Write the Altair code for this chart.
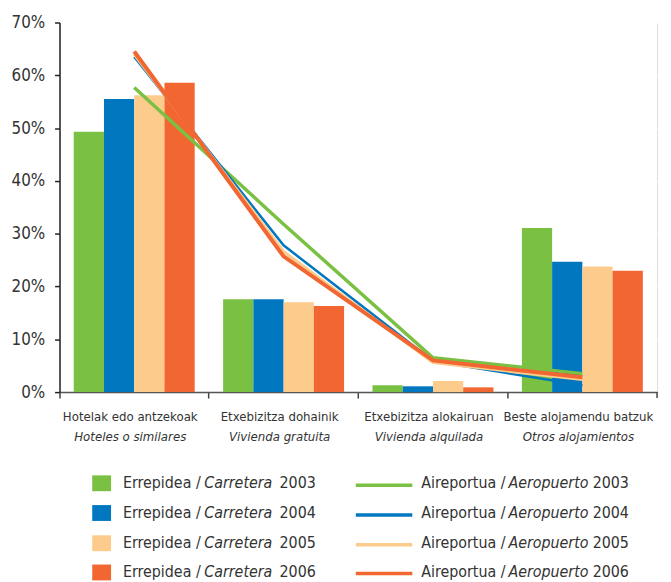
import altair as alt
import pandas as pd

# ---------------- data ----------------
categories = ["Hotelak edo antzekoak", "Etxebizitza dohainik",
              "Etxebizitza alokairuan", "Beste alojamendu batzuk"]
categories_es = ["Hoteles o similares", "Vivienda gratuita",
                 "Vivienda alquilada", "Otros alojamientos"]
years = ["2003", "2004", "2005", "2006"]

# Errepidea / Carretera (bars), percent
road_2003 = [49.3, 17.6, 1.3, 31.1]
road_2004 = [55.5, 17.6, 1.1, 24.7]
road_2005 = [56.2, 17.0, 2.1, 23.8]
road_2006 = [58.6, 16.3, 0.9, 23.0]

# Aireportua / Aeropuerto (lines), percent
air_2003 = [57.7, 31.8, 6.5, 3.5]
air_2004 = [63.5, 27.8, 5.9, 1.3]
air_2005 = [64.0, 26.6, 5.6, 2.4]
air_2006 = [64.5, 25.7, 6.0, 2.8]

y_ticks = [0, 10, 20, 30, 40, 50, 60, 70]

road_label = ("Errepidea /", "Carretera")
air_label = ("Aireportua /", "Aeropuerto")

# ---------------- styles ----------------
colors = ["#7AC143", "#0077BF", "#FDCB8B", "#F26632"]
line_widths = [3.5, 2.5, 3.2, 4.0]
FONT = "DejaVu Sans Condensed"
TXT = "#333333"
W, H = 603, 373
YMAX = 70

road_series = [road_2003, road_2004, road_2005, road_2006]
air_series = [air_2003, air_2004, air_2005, air_2006]

bars_df = pd.DataFrame([
    {"cat": c, "year": y, "value": v}
    for y, s in zip(years, road_series) for c, v in zip(categories, s)
])
lines_df = pd.DataFrame([
    {"cat": c, "year": y, "value": v}
    for y, s in zip(years, air_series) for c, v in zip(categories, s)
])
cat_df = pd.DataFrame({"cat": categories, "es": categories_es})

yscale = alt.Scale(domain=[0, YMAX], nice=False, zero=True)
yaxis = alt.Axis(values=y_ticks, labelExpr="datum.value + '%'", title=None,
                 tickSize=5, tickColor="#222222", tickWidth=1.5,
                 domainColor="#222222", domainWidth=1.5,
                 labelPadding=10, labelFontSize=17, labelColor=TXT,
                 labelFont=FONT, grid=True, gridColor="#FFFFFF", gridWidth=2)
xaxis = alt.Axis(title=None, labels=False, bandPosition=0, tickSize=6,
                 tickColor="#444444", tickWidth=1.5, domainColor="#555555",
                 domainWidth=1.5, grid=False)
X = alt.X("cat:N", sort=categories,
          scale=alt.Scale(paddingInner=0, paddingOuter=0), axis=xaxis)

def Y(field):
    return alt.Y(f"{field}:Q", scale=yscale, axis=yaxis)

layers = []

bars = alt.Chart(bars_df).mark_bar().encode(
    x=X,
    xOffset=alt.XOffset("year:N", sort=years,
                        scale=alt.Scale(paddingInner=0, paddingOuter=0.47)),
    y=Y("value"),
    color=alt.Color("year:N", scale=alt.Scale(domain=years, range=colors),
                    legend=None),
)
layers.append(bars)

for y, c, w in zip(years, colors, line_widths):
    layers.append(
        alt.Chart(lines_df).transform_filter(alt.datum.year == y)
        .mark_line(color=c, strokeWidth=w, strokeJoin="miter")
        .encode(x=X, y=Y("value"))
    )

# right-most x tick
layers.append(alt.Chart(pd.DataFrame({"a": [0]})).mark_rule(
    color="#444444", strokeWidth=1.5).encode(
    x=alt.value(W), y=alt.value(H), y2=alt.value(H + 6)))

# category labels
layers.append(alt.Chart(cat_df).mark_text(
    font=FONT, fontSize=13.2, color=TXT, baseline="middle", dx=-4).encode(
    x=X, y=alt.value(398), text="cat:N"))
layers.append(alt.Chart(cat_df).mark_text(
    font=FONT, fontSize=13.2, color=TXT, baseline="middle", fontStyle="italic",
    dx=-4).encode(x=X, y=alt.value(418), text="es:N"))

# ---------------- legend (layout) ----------------
def py_to_val(py_img):
    plot_y = py_img - 19
    return (H - plot_y) * YMAX / H

row_centers = [484, 514, 544.5, 574]
line_centers = [486, 516, 546, 575]
rows = []
for i, y in enumerate(years):
    rows.append({
        "year": y,
        "ly": py_to_val(row_centers[i]),
        "lt": py_to_val(row_centers[i] - 8),
        "lb": py_to_val(row_centers[i] + 8),
        "ll": py_to_val(line_centers[i]),
        "r1": road_label[0], "r2": road_label[1],
        "a1": air_label[0], "a2": air_label[1],
    })
leg_df = pd.DataFrame(rows)
leg_color = alt.Color("year:N", scale=alt.Scale(domain=years, range=colors),
                      legend=None)

layers.append(alt.Chart(leg_df).mark_rect().encode(
    x=alt.value(33), x2=alt.value(52), y=Y("lt"), y2=alt.Y2("lb:Q"),
    color=leg_color))
layers.append(alt.Chart(leg_df).mark_rule(strokeWidth=3.5).encode(
    x=alt.value(299), x2=alt.value(356), y=Y("ll"), color=leg_color))

def leg_text(field, xpx, align="left", italic=False):
    kw = dict(font=FONT, fontSize=16, color=TXT, baseline="middle", align=align)
    if italic:
        kw["fontStyle"] = "italic"
    return alt.Chart(leg_df).mark_text(**kw).encode(
        x=alt.value(xpx), y=Y("ly"), text=f"{field}:N")

layers += [
    leg_text("r1", 64), leg_text("r2", 146, "left", True),
    leg_text("year", 222, "left"),
    leg_text("a1", 365), leg_text("a2", 453, "left", True),
    leg_text("year", 538, "left"),
]

chart = alt.layer(*layers).properties(
    width=W, height=H,
    padding={"left": 3, "top": 3, "right": 5, "bottom": 0},
).configure_view(fill="#E5F1DA", stroke=None).configure(font=FONT)

chart.save("out.html", embed_options={"renderer": "svg", "actions": False})
